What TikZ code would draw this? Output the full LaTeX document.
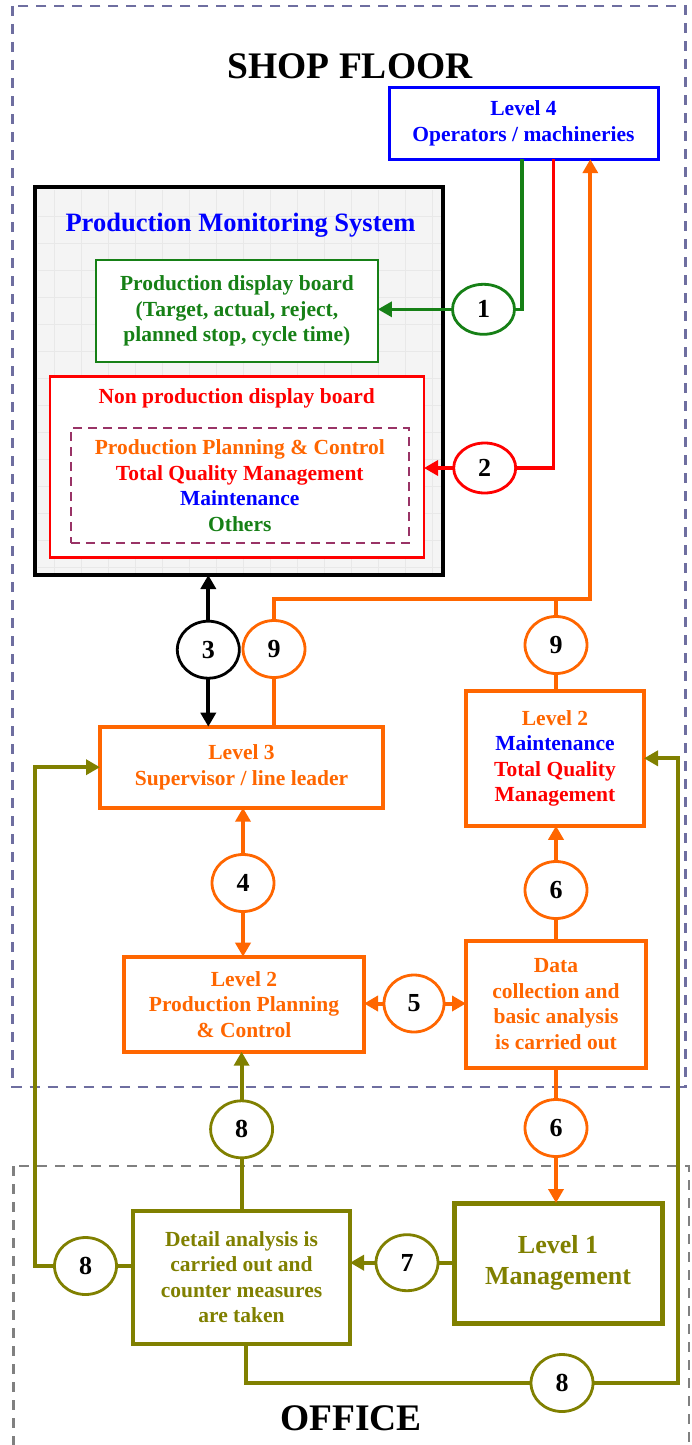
\documentclass[tikz,border=0pt]{standalone}
\usepackage{fontspec}
\setmainfont{Liberation Serif}
\usetikzlibrary{shapes.geometric,arrows.meta}

\definecolor{orgC}{RGB}{255,102,0}
\definecolor{oliveC}{RGB}{128,128,0}
\definecolor{greenC}{RGB}{22,128,22}
\definecolor{redC}{RGB}{255,0,0}
\definecolor{blueC}{RGB}{0,0,255}
\definecolor{shopC}{RGB}{110,110,160}
\definecolor{officeC}{RGB}{128,128,128}
\definecolor{purpC}{RGB}{153,51,102}
\definecolor{pmsfill}{RGB}{244,244,244}
\definecolor{pmsgrid}{RGB}{232,232,232}

\begin{document}
\begin{tikzpicture}[x=1pt,y=-1pt,
  every node/.style={inner sep=0pt, outer sep=0pt},
  txt/.style={font=\fontsize{21.5}{25.5}\selectfont\bfseries, align=center},
  box/.style={rectangle, draw, fill=white, txt},
  num/.style={ellipse, draw, fill=white, line width=2.8pt, minimum width=62pt,
    minimum height=57pt, font=\fontsize{26}{26}\selectfont\bfseries, text=black},
  flat/.style={minimum height=50pt},
  tip/.style={-{Triangle[length=14pt,width=15pt]}},
  zone/.style={dash pattern=on 10pt off 8pt, line width=2.5pt},
  oline/.style={draw=orgC, line width=4pt},
  olv/.style={draw=oliveC, line width=4pt},
  gline/.style={draw=greenC, line width=3.3pt},
  rline/.style={draw=redC, line width=3.3pt},
  kline/.style={draw=black, line width=4pt},
  title/.style={font=\fontsize{37.5}{40}\selectfont\bfseries, anchor=base}
]
\fill[white] (0,0) rectangle (691,1445);
\useasboundingbox (0,0) rectangle (691,1445);

% zones
\draw[zone, draw=shopC] (12.7,6) rectangle (685.5,1087);
\draw[zone, draw=officeC] (13.3,1166) rectangle (689,1470);
\node[title] (shop) at (350,78.3) {SHOP FLOOR};
\node[title] (office) at (351,1430) {OFFICE};

% level 4
\node[box, draw=blueC, text=blueC, line width=3pt, minimum width=269pt,
  minimum height=72pt] (L4) at (523.5,123.2) {Level 4\\Operators / machineries};

% production monitoring system
\node[rectangle, draw=black, fill=pmsfill, line width=4pt, minimum width=408pt,
  minimum height=388pt] (pms) at (239,381) {};
\draw[pmsgrid, line width=0.6pt] (37.5,189.5) grid[step=27pt] (440.5,572.5);
\node[font=\fontsize{26.5}{30}\selectfont\bfseries, text=blueC, anchor=base]
  (pmst) at (240.5,231.5) {Production Monitoring System};
\node[box, draw=greenC, text=greenC, line width=2.8pt, minimum width=282pt,
  minimum height=102pt] (pdb) at (236.9,310.9)
  {Production display board\\(Target, actual, reject,\\planned stop, cycle time)};
\node[rectangle, draw=redC, fill=white, line width=2.8pt, minimum width=374pt,
  minimum height=181pt] (npdb) at (237,467.2) {};
\node[txt, text=redC, anchor=base] (npdbt) at (236.7,403.3) {Non production display board};
\node[rectangle, draw=purpC, dash pattern=on 9pt off 6pt, line width=2pt,
  minimum width=338pt, minimum height=115pt, txt] (inner) at (239.8,485.5)
  {\textcolor{orgC}{Production Planning \& Control}\\\textcolor{redC}{Total Quality Management}\\
   \textcolor{blueC}{Maintenance}\\\textcolor{greenC}{Others}};

% levels 3 and 2
\node[box, draw=orgC, text=orgC, line width=4pt, minimum width=283pt,
  minimum height=81pt] (L3) at (241.5,767.2) {Level 3\\Supervisor / line leader};
\node[box, draw=orgC, line width=4pt, minimum width=178pt, minimum height=135pt]
  (L2m) at (555,758.3) {\textcolor{orgC}{Level 2}\\\textcolor{blueC}{Maintenance}\\
  \textcolor{redC}{Total Quality}\\\textcolor{redC}{Management}};
\node[box, draw=orgC, text=orgC, line width=4pt, minimum width=240pt,
  minimum height=95pt] (ppc) at (244,1004.2) {Level 2\\Production Planning\\\& Control};
\node[box, draw=orgC, text=orgC, line width=4pt, minimum width=180pt,
  minimum height=127pt] (data) at (556,1004.3)
  {Data\\collection and\\basic analysis\\is carried out};

% office
\node[box, draw=oliveC, text=oliveC, line width=3.5pt, minimum width=217pt,
  minimum height=133pt] (da) at (241.5,1277.3)
  {Detail analysis is\\carried out and\\counter measures\\are taken};
\node[box, draw=oliveC, text=oliveC, line width=5pt, minimum width=208pt,
  minimum height=120pt, font=\fontsize{26}{30.5}\selectfont\bfseries]
  (L1) at (558,1263) {Level 1\\Management};

% numbered steps
\node[num, flat, draw=greenC] (c1) at (483.5,309.3) {1};
\node[num, flat, draw=redC] (c2) at (484.7,468) {2};
\node[num, draw=black] (c3) at (208.3,649.7) {3};
\node[num, draw=orgC] (c9a) at (274,649) {9};
\node[num, draw=orgC] (c9b) at (556,645) {9};
\node[num, draw=orgC] (c4) at (243,883) {4};
\node[num, draw=orgC] (c6a) at (556,890) {6};
\node[num, draw=orgC, minimum width=60pt] (c5) at (414,1003.5) {5};
\node[num, draw=orgC] (c6b) at (556,1128) {6};
\node[num, draw=oliveC] (c8a) at (241.6,1129.3) {8};
\node[num, draw=oliveC, minimum height=56pt] (c7) at (407,1262.7) {7};
\node[num, draw=oliveC] (c8b) at (85.5,1266) {8};
\node[num, draw=oliveC] (c8c) at (562,1383) {8};

% free ends of connectors
\coordinate (gtop) at (522,159.3);
\coordinate (rtop) at (553.3,159.3);
\coordinate (ocorner) at (590.3,599);
\coordinate (lrail) at (35,767.2);
\coordinate (rrail) at (678,758.3);
\coordinate (dabot) at (246,1344);

% step 1 and 2: level 4 to the boards
\draw[gline] (gtop) |- (c1.east);
\draw[gline, tip] (c1.west) -- (c1.west -| pdb.east);
\draw[rline] (rtop) |- (c2.east);
\draw[rline, tip] (c2.west) -- (c2.west -| npdb.east);

% step 3
\draw[kline, tip] (c3.north) -- (c3.north |- pms.south);
\draw[kline, tip] (c3.south) -- (c3.south |- L3.north);

% step 9
\draw[oline, tip] (c9a.north) |- (ocorner) -- (ocorner |- L4.south);
\draw[oline] (c9a.south) -- (c9a.south |- L3.north);
\draw[oline] (c9b.north) -- (c9b.north |- ocorner);
\draw[oline] (c9b.south) -- (c9b.south |- L2m.north);

% steps 4, 5, 6
\draw[oline, tip] (c4.north) -- (c4.north |- L3.south);
\draw[oline, tip] (c4.south) -- (c4.south |- ppc.north);
\draw[oline, tip] (c5.west) -- (c5.west -| ppc.east);
\draw[oline, tip] (c5.east) -- (c5.east -| data.west);
\draw[oline] (data.north) -- (c6a.south);
\draw[oline, tip] (c6a.north) -- (c6a.north |- L2m.south);
\draw[oline] (data.south) -- (c6b.north);
\draw[oline, tip] (c6b.south) -- (c6b.south |- L1.north);

% steps 7 and 8
\draw[olv] (c7.east -| L1.west) -- (c7.east);
\draw[olv, tip] (c7.west) -- (c7.west -| da.east);
\draw[olv, tip] (c8a.north) -- (c8a.north |- ppc.south);
\draw[olv] (c8a.south) -- (c8a.south |- da.north);
\draw[olv] (c8b.east -| da.west) -- (c8b.east);
\draw[olv, tip] (c8b.west) -| (lrail) -- (L3.west);
\draw[olv] (dabot) |- (c8c.west);
\draw[olv, tip] (c8c.east) -| (rrail) -- (L2m.east);
\end{tikzpicture}
\end{document}
